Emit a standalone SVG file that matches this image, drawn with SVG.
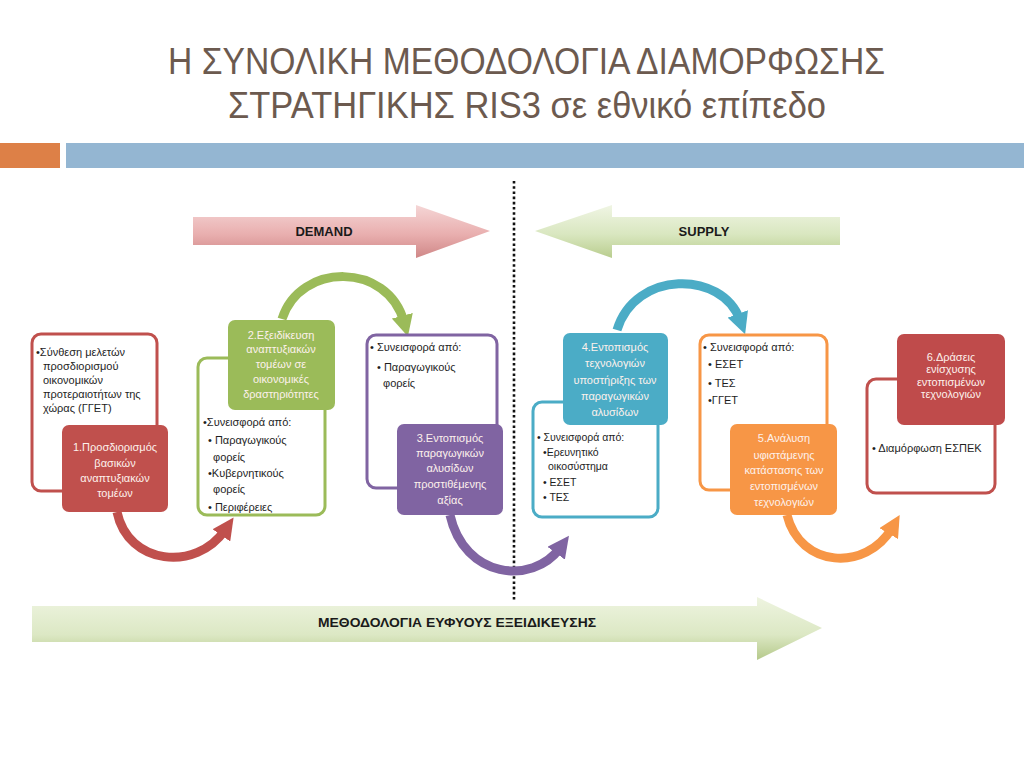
<svg xmlns="http://www.w3.org/2000/svg" width="1024" height="768" viewBox="0 0 1024 768">
<defs>
<style>
.title{font-family:"Liberation Sans","Noto Sans",sans-serif;font-size:37px;fill:#6c5a4f}
.t{font-family:"Liberation Sans","Noto Sans",sans-serif;font-size:11px;fill:#1e1e1e}
.ts{font-family:"Liberation Sans","Noto Sans",sans-serif;font-size:10.5px;fill:#1e1e1e}
.w{font-family:"Liberation Sans","Noto Sans",sans-serif;font-size:11px;fill:#fdf1ec;text-anchor:middle}
.lbl{font-family:"Liberation Sans","Noto Sans",sans-serif;font-size:13px;font-weight:bold;fill:#1a1a1a;text-anchor:middle}
.ol{fill:#ffffff;stroke-width:3}
.conn{fill:none;stroke-width:9}
</style>
<linearGradient id="gPink" x1="0" y1="0" x2="0" y2="1">
<stop offset="0" stop-color="#f5d6d6"/><stop offset="0.55" stop-color="#e9afaf"/><stop offset="1" stop-color="#cf8787"/>
</linearGradient>
<linearGradient id="gGreen" x1="0" y1="0" x2="0" y2="1">
<stop offset="0" stop-color="#f0f5e4"/><stop offset="0.55" stop-color="#d9e7c0"/><stop offset="1" stop-color="#b9cd8e"/>
</linearGradient>
<linearGradient id="gGreen2" x1="0" y1="0" x2="0" y2="1">
<stop offset="0" stop-color="#eef4e0"/><stop offset="0.6" stop-color="#dce8c4"/><stop offset="1" stop-color="#b5c98a"/>
</linearGradient>
<marker id="mRed" viewBox="0 0 10 10" refX="3" refY="5" markerWidth="2.4" markerHeight="2.4" orient="auto"><path d="M0,0 L10,5 L0,10 z" fill="#c0504d"/></marker>
<marker id="mGreen" viewBox="0 0 10 10" refX="3" refY="5" markerWidth="2.4" markerHeight="2.4" orient="auto"><path d="M0,0 L10,5 L0,10 z" fill="#9bbb59"/></marker>
<marker id="mPurple" viewBox="0 0 10 10" refX="3" refY="5" markerWidth="2.4" markerHeight="2.4" orient="auto"><path d="M0,0 L10,5 L0,10 z" fill="#8064a2"/></marker>
<marker id="mTeal" viewBox="0 0 10 10" refX="3" refY="5" markerWidth="2.4" markerHeight="2.4" orient="auto"><path d="M0,0 L10,5 L0,10 z" fill="#4bacc6"/></marker>
<marker id="mOrange" viewBox="0 0 10 10" refX="3" refY="5" markerWidth="2.4" markerHeight="2.4" orient="auto"><path d="M0,0 L10,5 L0,10 z" fill="#f79646"/></marker>
</defs>
<rect width="1024" height="768" fill="#ffffff"/>

<g id="title">
<text class="title" x="168" y="74" textLength="717" lengthAdjust="spacingAndGlyphs">Η ΣΥΝΟΛΙΚΗ ΜΕΘΟΔΟΛΟΓΙΑ ΔΙΑΜΟΡΦΩΣΗΣ</text>
<text class="title" x="228" y="118" textLength="598" lengthAdjust="spacingAndGlyphs">ΣΤΡΑΤΗΓΙΚΗΣ RIS3 σε εθνικό επίπεδο</text>
</g>
<g id="bars">
<rect x="0" y="143" width="60" height="25" fill="#dd8047"/>
<rect x="66" y="143" width="958" height="25" fill="#94b6d2"/>
</g>

<line id="divider" x1="514" y1="181" x2="514" y2="600" stroke="#111" stroke-width="2.6" stroke-dasharray="2.6 2.6"/>

<g id="demand">
<polygon points="193,217 416,217 416,205 490,231 416,258 416,245 193,245" fill="url(#gPink)"/>
<text class="lbl" x="324" y="236">DEMAND</text>
</g>
<g id="supply">
<polygon points="535,231 612,205 612,217 840,217 840,245 612,245 612,258" fill="url(#gGreen)"/>
<text class="lbl" x="704" y="236">SUPPLY</text>
</g>

<g id="methodology">
<polygon points="32,606 757,606 757,597 822,628 757,660 757,642 32,642" fill="url(#gGreen2)"/>
<text class="lbl" x="457" y="627" style="font-size:12px" textLength="278" lengthAdjust="spacingAndGlyphs">ΜΕΘΟΔΟΛΟΓΙΑ ΕΥΦΥΟΥΣ ΕΞΕΙΔΙΚΕΥΣΗΣ</text>
</g>

<g id="connectors">
<path class="conn" stroke="#c0504d" d="M117,512 C128,565 196,572 225,530" marker-end="url(#mRed)"/>
<path class="conn" stroke="#9bbb59" d="M282,319 C300,262 388,262 404,322" marker-end="url(#mGreen)"/>
<path class="conn" stroke="#8064a2" d="M450,515 C464,578 532,586 560,548" marker-end="url(#mPurple)"/>
<path class="conn" stroke="#4bacc6" d="M617,330 C635,270 722,270 740,320" marker-end="url(#mTeal)"/>
<path class="conn" stroke="#f79646" d="M787,515 C800,568 866,572 892,528" marker-end="url(#mOrange)"/>
</g>

<g id="step1-info">
<rect class="ol" x="32" y="334" width="125" height="157" rx="9" stroke="#c0504d"/>
<text class="t" x="36" y="356">•Σύνθεση μελετών</text>
<text class="t" x="43" y="370">προσδιορισμού</text>
<text class="t" x="43" y="384">οικονομικών</text>
<text class="t" x="43" y="398">προτεραιοτήτων της</text>
<text class="t" x="43" y="412">χώρας (ΓΓΕΤ)</text>
</g>
<g id="step1">
<rect x="62" y="425" width="106" height="87" rx="7" fill="#c0504d"/>
<text class="w" x="115" y="451">1.Προσδιορισμός</text>
<text class="w" x="115" y="467">βασικών</text>
<text class="w" x="115" y="482">αναπτυξιακών</text>
<text class="w" x="115" y="497">τομέων</text>
</g>

<g id="step2-info">
<rect class="ol" x="198" y="358" width="127" height="157" rx="9" stroke="#9bbb59"/>
<text class="t" x="203" y="426">•Συνεισφορά από:</text>
<text class="t" x="208" y="444">• Παραγωγικούς</text>
<text class="t" x="213" y="461">φορείς</text>
<text class="t" x="208" y="477">•Κυβερνητικούς</text>
<text class="t" x="213" y="493">φορείς</text>
<text class="t" x="208" y="511">• Περιφέρειες</text>
</g>
<g id="step2">
<rect x="228" y="320" width="107" height="90" rx="7" fill="#9bbb59"/>
<text class="w" x="281" y="339">2.Εξειδίκευση</text>
<text class="w" x="281" y="353">αναπτυξιακών</text>
<text class="w" x="281" y="368">τομέων σε</text>
<text class="w" x="281" y="383">οικονομικές</text>
<text class="w" x="281" y="398">δραστηριότητες</text>
</g>

<g id="step3-info">
<rect class="ol" x="367" y="335" width="130" height="153" rx="9" stroke="#8064a2"/>
<text class="t" x="370" y="351">• Συνεισφορά από:</text>
<text class="t" x="377" y="371">• Παραγωγικούς</text>
<text class="t" x="383" y="387">φορείς</text>
</g>
<g id="step3">
<rect x="397" y="424" width="106" height="91" rx="7" fill="#8064a2"/>
<text class="w" x="450" y="442">3.Εντοπισμός</text>
<text class="w" x="450" y="457">παραγωγικών</text>
<text class="w" x="450" y="472">αλυσίδων</text>
<text class="w" x="450" y="488">προστιθέμενης</text>
<text class="w" x="450" y="504">αξίας</text>
</g>

<g id="step4-info">
<rect class="ol" x="533" y="402" width="125" height="115" rx="9" stroke="#4bacc6"/>
<text class="ts" x="537" y="441">• Συνεισφορά από:</text>
<text class="ts" x="543" y="456">•Ερευνητικό</text>
<text class="ts" x="548" y="470">οικοσύστημα</text>
<text class="ts" x="543" y="486">• ΕΣΕΤ</text>
<text class="ts" x="543" y="501">• ΤΕΣ</text>
</g>
<g id="step4">
<rect x="563" y="333" width="105" height="92" rx="7" fill="#4bacc6"/>
<text class="w" x="615" y="351">4.Εντοπισμός</text>
<text class="w" x="615" y="367">τεχνολογιών</text>
<text class="w" x="615" y="384">υποστήριξης των</text>
<text class="w" x="615" y="400">παραγωγικών</text>
<text class="w" x="615" y="416">αλυσίδων</text>
</g>

<g id="step5-info">
<rect class="ol" x="700" y="335" width="127" height="155" rx="9" stroke="#f79646"/>
<text class="t" x="703" y="351">• Συνεισφορά από:</text>
<text class="t" x="708" y="368">• ΕΣΕΤ</text>
<text class="t" x="708" y="387">• ΤΕΣ</text>
<text class="t" x="708" y="404">•ΓΓΕΤ</text>
</g>
<g id="step5">
<rect x="730" y="424" width="107" height="91" rx="7" fill="#f79646"/>
<text class="w" x="784" y="442">5.Ανάλυση</text>
<text class="w" x="784" y="459">υφιστάμενης</text>
<text class="w" x="784" y="474">κατάστασης των</text>
<text class="w" x="784" y="490">εντοπισμένων</text>
<text class="w" x="784" y="506">τεχνολογιών</text>
</g>

<g id="step6-info">
<rect class="ol" x="867" y="379" width="128" height="114" rx="9" stroke="#c0504d"/>
<text class="t" x="872" y="452">• Διαμόρφωση ΕΣΠΕΚ</text>
</g>
<g id="step6">
<rect x="897" y="334" width="108" height="91" rx="7" fill="#bf4b4b"/>
<text class="w" x="951" y="361">6.Δράσεις</text>
<text class="w" x="951" y="373">ενίσχυσης</text>
<text class="w" x="951" y="386">εντοπισμένων</text>
<text class="w" x="951" y="398">τεχνολογιών</text>
</g>
</svg>
